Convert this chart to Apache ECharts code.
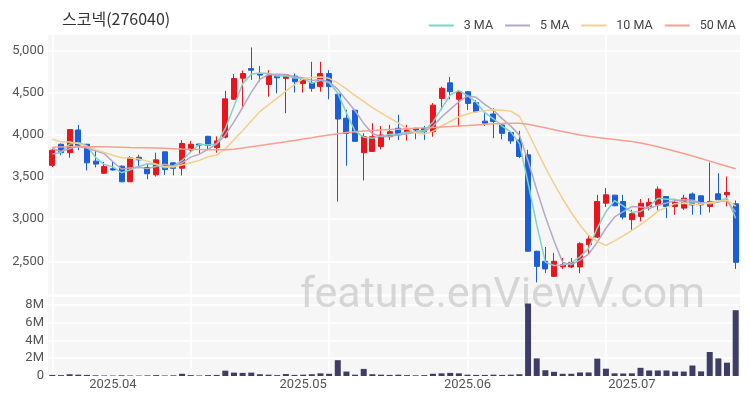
<!DOCTYPE html>
<html>
<head>
<meta charset="utf-8">
<script src="https://cdn.jsdelivr.net/npm/echarts@6/dist/echarts.min.js"></script>
<style>
html,body{margin:0;padding:0;background:#fff;}
#chart{width:750px;height:400px;}
</style>
</head>
<body>
<div id="chart"></div>
<script>
// ---- data ----
const titleText = '스코넥(276040)';
const dates = [
 '2025-03-21','2025-03-24','2025-03-25','2025-03-26','2025-03-27','2025-03-28','2025-03-31',
 '2025-04-01','2025-04-02','2025-04-03','2025-04-04','2025-04-07','2025-04-08','2025-04-09','2025-04-10','2025-04-11',
 '2025-04-14','2025-04-15','2025-04-16','2025-04-17','2025-04-18','2025-04-21','2025-04-22','2025-04-23','2025-04-24',
 '2025-04-25','2025-04-28','2025-04-29','2025-04-30',
 '2025-05-02','2025-05-07','2025-05-08','2025-05-09','2025-05-12','2025-05-13','2025-05-14','2025-05-15','2025-05-16',
 '2025-05-19','2025-05-20','2025-05-21','2025-05-22','2025-05-23','2025-05-26','2025-05-27','2025-05-28','2025-05-29','2025-05-30',
 '2025-06-02','2025-06-04','2025-06-05','2025-06-09','2025-06-10','2025-06-11','2025-06-12','2025-06-13',
 '2025-06-16','2025-06-17','2025-06-18','2025-06-19','2025-06-20','2025-06-23','2025-06-24','2025-06-25','2025-06-26','2025-06-27','2025-06-30',
 '2025-07-01','2025-07-02','2025-07-03','2025-07-04','2025-07-07','2025-07-08','2025-07-09','2025-07-10','2025-07-11',
 '2025-07-14','2025-07-15','2025-07-16','2025-07-17'
];
const opens = [3640,3890,3790,4060,3890,3690,3546,3600,3630,3445,3735,3615,3527,3800,3670,3606,3823,3893,3985,3850,
 3975,4425,4675,4790,4730,4600,4700,4673,4700,4613,4620,4575,4730,4485,4200,4295,3790,3805,3865,3980,
 4080,4030,4080,4080,4040,4435,4620,4425,4515,4385,4165,4250,4120,4030,3940,3765,2620,2500,2322,2435,
 2433,2433,2698,2788,3191,3286,3210,2995,3033,3152,3171,3270,3152,3132,3300,3278,3152,3302,3290,3183];
const closes = [3820,3790,4065,3880,3670,3655,3625,3585,3445,3730,3705,3540,3705,3590,3605,3900,3890,3880,3875,3930,
 4430,4670,4730,4770,4712,4712,4680,4716,4633,4661,4555,4730,4575,4190,4020,3925,3980,3980,4000,4040,
 4000,4060,4060,4040,4355,4555,4515,4515,4376,4278,4140,4160,4020,3930,3745,2620,2440,2410,2500,2460,
 2488,2710,2765,3210,3290,3160,3025,3065,3190,3200,3357,3152,3200,3250,3170,3171,3211,3231,3318,2488];
const lows = [3620,3760,3730,3820,3580,3615,3540,3578,3440,3440,3605,3475,3507,3527,3520,3520,3790,3780,3820,3790,
 3960,4416,4315,4655,4635,4455,4495,4260,4505,4505,4515,4515,4425,3210,3635,3920,3460,3805,3830,3940,
 3940,3935,3950,3942,3980,4297,4425,4100,4297,4265,4108,3962,3950,3895,3725,2615,2250,2360,2315,2410,
 2420,2360,2580,2777,3145,3155,3000,2875,2975,3105,3104,3013,3053,3112,3053,3053,3081,3231,3152,2409];
const highs = [3830,3900,4070,4120,3895,3820,3680,3685,3640,3750,3765,3665,3790,3805,3675,3940,3930,3895,3990,3985,
 4525,4725,4765,5040,4820,4770,4705,4720,4732,4685,4870,4870,4770,4490,4300,4300,4020,4140,4108,4120,
 4240,4120,4085,4108,4380,4575,4690,4535,4520,4415,4278,4317,4140,4040,4050,3825,2625,2670,2600,2540,
 2540,2725,2815,3290,3370,3290,3290,3112,3240,3250,3390,3275,3240,3290,3318,3280,3673,3547,3507,3223];
// volume in shares
const volumes = [120000,100000,200000,150000,120000,80000,60000,50000,80000,60000,50000,70000,100000,60000,80000,250000,100000,60000,100000,120000,
 600000,380000,350000,380000,200000,150000,100000,220000,120000,150000,200000,300000,250000,1780000,500000,150000,800000,200000,150000,120000,
 150000,100000,80000,100000,250000,300000,350000,300000,150000,120000,120000,150000,120000,150000,200000,8150000,1980000,650000,470000,250000,
 250000,400000,400000,1950000,820000,300000,280000,300000,920000,620000,620000,620000,500000,500000,1180000,520000,2700000,1980000,1500000,7400000];
// closes of the sessions just before the first visible day (estimated from the MA lines)
const priorCloses = [4100,4080,4060,4040,4010,3980,3902,3740,3768];
// 50-day average as drawn in the reference
const ma50 = [3855,3858,3860,3862,3862,3862,3860,3858,3855,3852,3850,3848,3845,3842,3838,3833,3830,3828,3826,3825,
 3825,3832,3845,3860,3875,3890,3905,3920,3936,3952,3968,3985,4000,4015,4030,4040,4048,4055,4060,4065,
 4070,4075,4080,4085,4090,4095,4100,4106,4112,4120,4127,4133,4137,4140,4140,4128,4108,4086,4064,4042,
 4020,4000,3985,3972,3960,3948,3936,3922,3905,3885,3862,3835,3808,3780,3752,3722,3690,3660,3630,3600];
const maNames = ['3 MA','5 MA','10 MA','50 MA'];
const maColors = ['#7fd3c7','#b5a7c9','#f3cf8c','#f5a090'];
const priceMin = 2100, priceMax = 5200;
const volMax = 9000000;

// ---- build ----
const allCloses = priorCloses.concat(closes);
function movingAvg(n){
  const off = priorCloses.length;
  return closes.map((c,i)=>{
    const end = off + i;
    const start = end - n + 1;
    if (start < 0) return '-';
    let s = 0;
    for (let k=start;k<=end;k++) s += allCloses[k];
    return Math.round(s/n);
  });
}
const ma3 = movingAvg(3), ma5 = movingAvg(5), ma10 = movingAvg(10);
const candleData = opens.map((o,i)=>[o, closes[i], lows[i], highs[i]]);
const UP = '#e8151d', DOWN = '#1a5fd9';
const volData = volumes.map((v,i)=>({value:v, itemStyle:{color:'#3e3d68'}}));

function monthStart(i){ return i>0 && dates[i].slice(0,7)!==dates[i-1].slice(0,7); }
const font = 'Roboto, "Noto Sans", sans-serif';

const chart = echarts.init(document.getElementById('chart'));
const vSplit = {show:true, interval:(i)=> i%16===0, alignWithLabel:true, lineStyle:{color:'#ffffff', width:1.5}};
chart.setOption({
  animation:false,
  backgroundColor:'#ffffff',
  title:{text:titleText, left:62, top:11, padding:0,
    textStyle:{fontFamily:'"Noto Sans CJK KR", "Noto Sans", sans-serif', fontSize:16, fontWeight:'normal', color:'#333'}},
  legend:{data:maNames.map((n,i)=>({name:n, icon:'rect', itemStyle:{color:maColors[i]}})),
    right:14, top:19, padding:0, itemWidth:25, itemHeight:2, itemGap:12,
    textStyle:{fontFamily:font, fontSize:12.5, color:'#444', padding:[0,0,0,5]}},
  graphic:[{type:'text', left:300, top:275, z:1, silent:true,
    style:{text:'feature.enViewV.com', font:'43px Roboto, "Noto Sans", sans-serif', fill:'rgba(185,185,185,0.55)'}}],
  grid:[
    {left:48, right:10, top:34, height:261, show:true, backgroundColor:'#f6f6f7', borderWidth:0},
    {left:48, right:10, top:296, bottom:24, show:true, backgroundColor:'#f6f6f7', borderWidth:0}
  ],
  xAxis:[
    {type:'category', gridIndex:0, data:dates, boundaryGap:true,
     axisLine:{show:false}, axisTick:{show:false}, axisLabel:{show:false}, splitLine:vSplit},
    {type:'category', gridIndex:1, data:dates, boundaryGap:true,
     axisLine:{show:false}, axisTick:{show:false}, splitLine:vSplit,
     axisLabel:{show:true, interval:(i)=>monthStart(i), margin:2, color:'#555', fontFamily:font, fontSize:13,
       formatter:(v)=> v.slice(0,4)+'.'+v.slice(5,7)}}
  ],
  yAxis:[
    {type:'value', gridIndex:0, min:priceMin, max:priceMax, splitNumber:6,
     axisLine:{show:false}, axisTick:{show:false},
     axisLabel:{margin:4, color:'#555', fontFamily:font, fontSize:13, showMinLabel:false, showMaxLabel:false,
       formatter:(v)=> v.toLocaleString('en-US')},
     splitLine:{show:true, lineStyle:{color:'#ffffff', width:1.5}}},
    {type:'value', gridIndex:1, min:0, max:volMax, interval:2000000,
     axisLine:{show:false}, axisTick:{show:false},
     axisLabel:{margin:4, color:'#555', fontFamily:font, fontSize:13, showMaxLabel:false,
       formatter:(v)=> v===0 ? '0' : (v/1000000)+'M'},
     splitLine:{show:true, lineStyle:{color:'#ffffff', width:1.5}}}
  ],
  series:[
    {type:'candlestick', name:'price', xAxisIndex:0, yAxisIndex:0, data:candleData, barWidth:5.5,
     itemStyle:{color:UP, color0:DOWN, borderColor:UP, borderColor0:DOWN, borderWidth:1}},
    {type:'line', name:maNames[0], data:ma3, symbol:'none', lineStyle:{width:1.5, color:maColors[0]}, itemStyle:{color:maColors[0]}, z:3},
    {type:'line', name:maNames[1], data:ma5, symbol:'none', lineStyle:{width:1.5, color:maColors[1]}, itemStyle:{color:maColors[1]}, z:3},
    {type:'line', name:maNames[2], data:ma10, symbol:'none', lineStyle:{width:1.5, color:maColors[2]}, itemStyle:{color:maColors[2]}, z:3},
    {type:'line', name:maNames[3], data:ma50, symbol:'none', lineStyle:{width:1.5, color:maColors[3]}, itemStyle:{color:maColors[3]}, z:3},
    {type:'bar', name:'volume', xAxisIndex:1, yAxisIndex:1, data:volData, barWidth:6}
  ]
});
</script>
</body>
</html>
